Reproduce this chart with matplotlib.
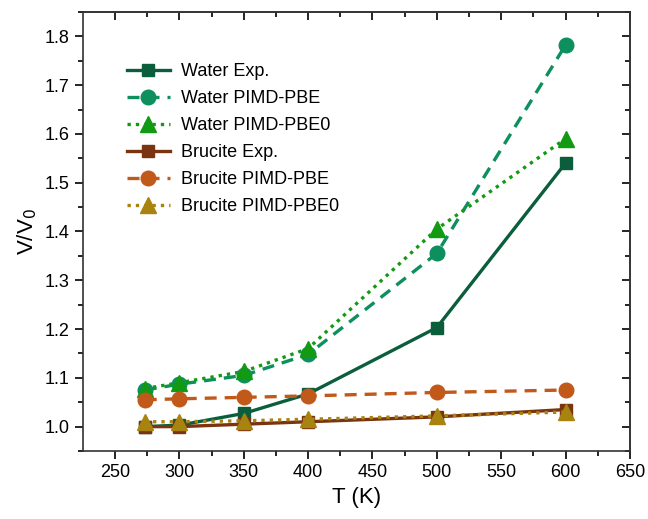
import matplotlib
matplotlib.use("Agg")
from matplotlib import pyplot as plt
import matplotlib as mpl

mpl.rc('font', family=['Liberation Sans', 'DejaVu Sans'], size=13)

T = [273, 300, 350, 400, 500, 600]

water_exp = [1.000, 1.003, 1.027, 1.067, 1.203, 1.540]
water_pbe = [1.075, 1.087, 1.105, 1.148, 1.355, 1.782]
water_pbe0 = [1.078, 1.090, 1.113, 1.160, 1.405, 1.590]
brucite_exp = [1.000, 1.000, 1.005, 1.010, 1.020, 1.035]
brucite_pbe = [1.055, 1.057, 1.060, 1.063, 1.070, 1.075]
brucite_pbe0 = [1.010, 1.010, 1.012, 1.015, 1.022, 1.030]

series = [
    ("Water Exp.", water_exp, '#0b5e3c', '-', 's'),
    ("Water PIMD-PBE", water_pbe, '#0e8f5e', (0, (3.6, 2.4)), 'o'),
    ("Water PIMD-PBE0", water_pbe0, '#139a13', (0, (1, 1.5)), '^'),
    ("Brucite Exp.", brucite_exp, '#7a3410', '-', 's'),
    ("Brucite PIMD-PBE", brucite_pbe, '#c0591a', (0, (3.6, 2.4)), 'o'),
    ("Brucite PIMD-PBE0", brucite_pbe0, '#a8830f', (0, (1, 1.5)), '^'),
]

fig = plt.figure(figsize=(6.48, 5.19), dpi=100)
ax = fig.add_axes([0.128, 0.131, 0.844, 0.846])

for name, vals, c, ls, m in series:
    ms = {'s': 8.5, 'o': 10.5, '^': 11}[m]
    ax.plot(T, vals, color=c, linestyle=ls, linewidth=2.4, marker=m,
            markersize=ms, label=name)

ax.set_xlim(225, 650)
ax.set_ylim(0.95, 1.85)
ax.set_xticks(range(250, 651, 50))
ax.set_xticks(range(275, 651, 50), minor=True)
ax.set_yticks([1.0 + 0.1 * i for i in range(9)])
ax.set_yticks([0.95 + 0.1 * i for i in range(10)], minor=True)
ax.set_yticklabels(["%.1f" % (1.0 + 0.1 * i) for i in range(9)])

ax.tick_params(which='major', direction='out', length=6, width=1.2, labelsize=13)
ax.tick_params(which='minor', direction='out', length=3.5, width=1.2)

# mirrored inward ticks on top and right
top = ax.secondary_xaxis('top')
top.set_xticks(range(250, 651, 50))
top.set_xticks(range(275, 651, 50), minor=True)
top.tick_params(which='major', direction='in', length=6, width=1.2, labeltop=False)
top.tick_params(which='minor', direction='in', length=3.5, width=1.2)
right = ax.secondary_yaxis('right')
right.set_yticks([1.0 + 0.1 * i for i in range(9)])
right.set_yticks([0.95 + 0.1 * i for i in range(10)], minor=True)
right.tick_params(which='major', direction='in', length=6, width=1.2, labelright=False)
right.tick_params(which='minor', direction='in', length=3.5, width=1.2)

for sp in list(ax.spines.values()) + [top.spines['top'], right.spines['right']]:
    sp.set_linewidth(1.2)
    sp.set_color('#333333')

ax.set_xlabel("T (K)", fontsize=16)
ax.set_ylabel("V/V$_0$", fontsize=16)

ax.legend(loc='upper left', bbox_to_anchor=(0.05, 0.92), frameon=False,
          fontsize=13, handlelength=2.4, labelspacing=0.55, handletextpad=0.6)

fig.savefig("out.png", dpi=100)
